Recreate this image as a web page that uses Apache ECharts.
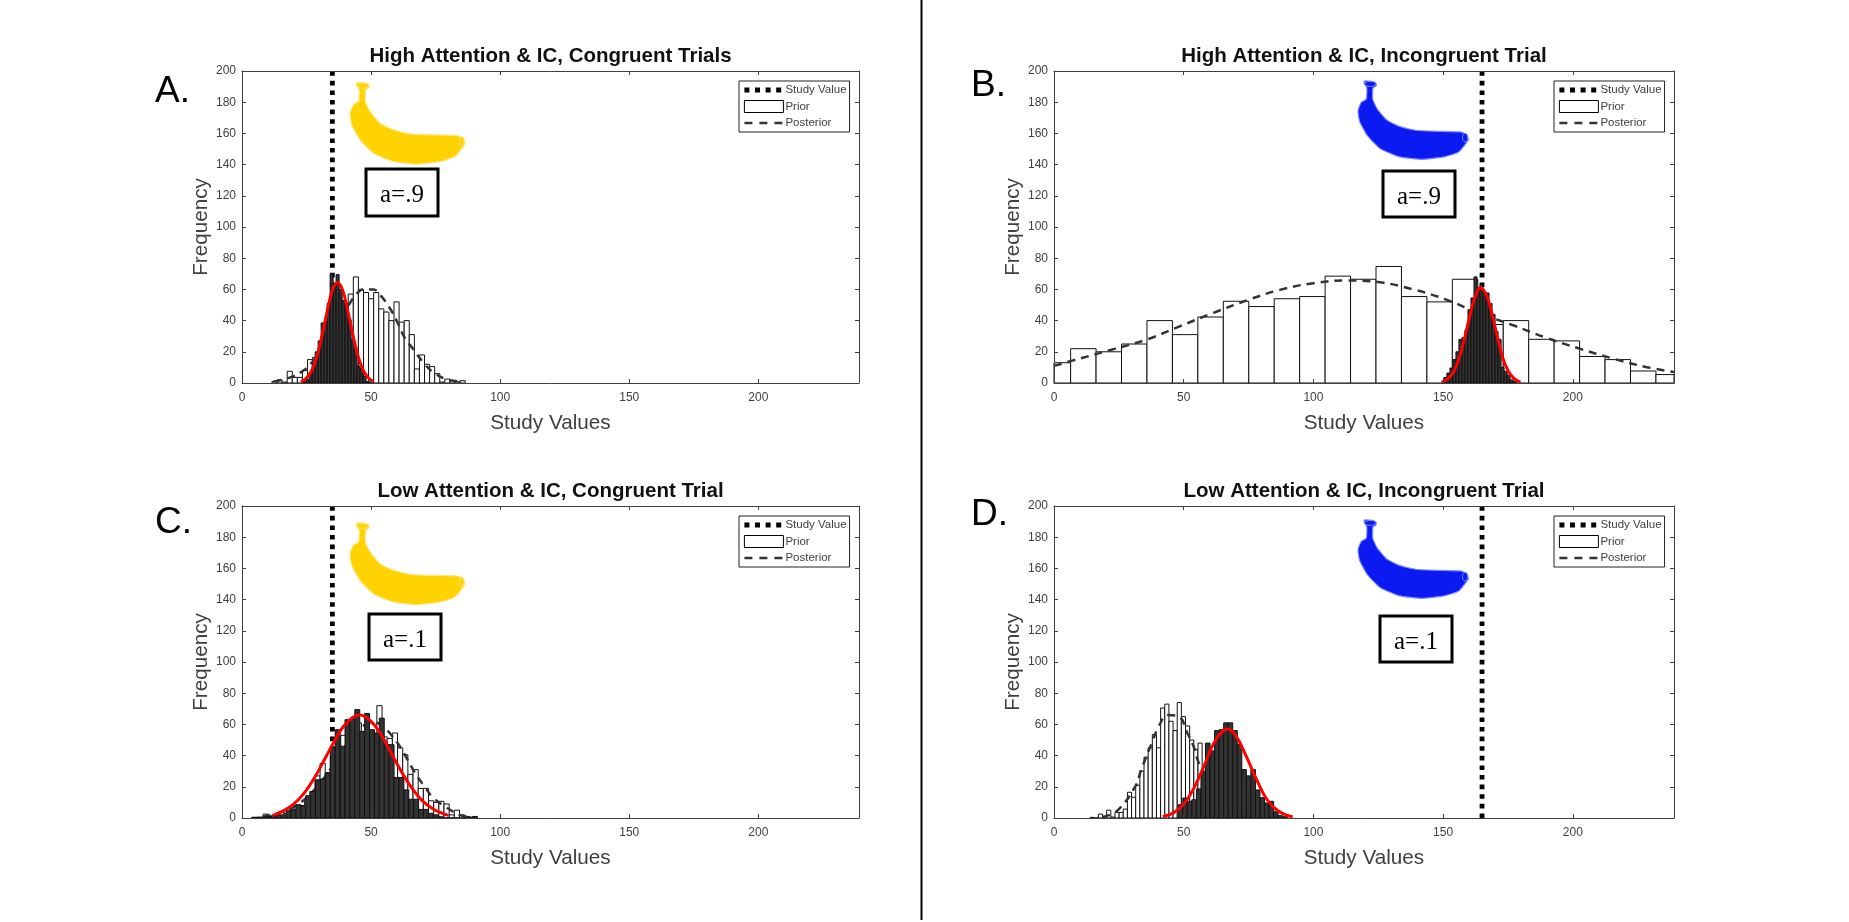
<!DOCTYPE html>
<html><head><meta charset="utf-8">
<style>html,body{margin:0;padding:0;background:#fff}#c{width:1849px;height:922px}</style>
<script src="https://cdn.jsdelivr.net/npm/echarts@6/dist/echarts.min.js"></script>
</head><body><div id="c"></div>
<script>
const xTicks = [0, 50, 100, 150, 200];
const yTicks = [0, 20, 40, 60, 80, 100, 120, 140, 160, 180, 200];
const titles = ['High Attention & IC, Congruent Trials', 'High Attention & IC, Incongruent Trial', 'Low Attention & IC, Congruent Trial', 'Low Attention & IC, Incongruent Trial'];
const letters = ['A.', 'B.', 'C.', 'D.'];
const alphaLabels = ['a=.9', 'a=.9', 'a=.1', 'a=.1'];
const studyValues = [35, 165, 35, 165];

const priorA = [1,2,.6,7.5,3.6,3.6,8,15,16.5,21,33,40,42,44,50,57,68,60,58,54,58,47.5,45.5,40,52,39,40,31,9,18,12,10.5,6,.6,2.5,1.5,.8,1.5];
const priorAStart = 11.6, priorAWidth = 1.97;
const darkA = [1,2,6,12,20,27,38.5,39.5,51,70,62,69.5,60,53,51,40.6,28,22,10.7,9.6,4.3,1,.6];
const darkAStart = 23.7, darkAWidth = 1.16;
const dashAX = [12.2,18.7,23.8,28,32,36,40,43.8,47,50.9,53.5,58,60.5,63,66.3,70.3,74,79,84];
const dashAY = [.9,3.6,8,15,24,35,46,56,60,60,56.6,46,37.8,29,21.8,13,7,2.5,1];
const redAX = [22.8,25,27,29,31,33,35,37,39,41,43,45,47,49,51];
const redAY = [.6,3.2,8,17,30.5,46,59.4,64.5,59.4,46,30.5,17,8,3.2,.8];

const priorB = [13,22,20,25,40,31,42.3,52.4,49,54,55.4,68.5,66.5,74.7,55.4,52,66.5,37.5,40,28,27,17,15,7.7,5.4];
const priorBStart = -3.4, priorBWidth = 9.81;
const darkB = [3.6,6.4,9.6,15,20,28,29,34,47,54.5,68,61,63,57.7,57.7,51,44,33,28,10,7.5,5,2,1];
const darkBStart = 150.3, darkBWidth = 1.16;
const dashBX = [0,10,23,36,48.7,61.5,74.4,87,100,113,125.6,138.5,151,164,177,189.7,202.6,215.4,228.2,239];
const dashBY = [11,15.7,21.7,28,36.5,45,53,59.7,64,65.7,64.6,60,53.6,44.6,37,29,22,15.7,10.3,7];
const redBX = [149.4,152,154,156,158,160,162,164.5,167,169,171,173,175,177,179.8];
const redBY = [.4,3,7,15,27,41,53.5,61,55,43,29,16,8,3.5,.4];

const priorC = [2.5,1,1.5,3.8,3,4,8,8,12,17,27,35,29,40,47,53,50,55,61,50,55,52,72,52,51,54.5,45,40.6,28,31,19,19,11,10,10.7,9,2,5,2,1,.6];
const priorCStart = 8.25, priorCWidth = 2;
const darkC = [.5,.6,.6,1,1.7,2,2,5,5.3,8.5,8,14.3,17,24.5,25,29,45,56.6,46,63,63.5,69.5,55.5,67,56.6,54.5,64,47,47,26,26,18,12,12,5.5,5.5,3,2,.8,0,0,0,0,0,0,1];
const darkCStart = 3.8, darkCWidth = 1.9;
const dashCX = [8,14,20,25,30,35,40,44,48,52,55,57.2,61.1,67,70.8,74,78.5,84.3,88];
const dashCY = [1,3,7,13,22,33,46,54,60,61,58,54.5,46,29,20,13,7.5,2,.6];
const redCX = [11.9,16,20,24,28,32,36,40,45.6,50,54,58,62,66,70,74,78,80];
const redCY = [1.6,4.6,8.9,15.8,25.6,37.6,49.8,60,66,62,53,41,29,18.6,10.8,5.8,2.7,1.8];

const priorD = [.4,0,2.5,.6,5,.6,3.6,3.6,5.7,16.5,13.3,21,30,39,45,53.5,45,70.5,73,62,56,74,65,59,50,44,48,30,30,22,15,8,4,2];
const priorDStart = 13.9, priorDWidth = 1.6;
const darkD = [8.5,12.8,10.7,11.7,18.6,29,48,43,56,56.6,61,61,56,47,31,27,31,18,13,9.6,10.7,4,1.5,.8];
const darkDStart = 47.9, darkDWidth = 1.75;
const dashDX = [18.6,24.4,31.5,33.4,37.9,40.1,43.7,48.2,51.4,54,55.9,60,65,70,75];
const dashDY = [.6,4.7,20.7,30,49,57.7,66,65,54.5,45,35,23,9,3,1];
const redDX = [42,46,50,54,58,62,66.8,70,74,78,82,86,90,92];
const redDY = [1,3.3,8.9,19.4,34,49,57,53,40,25,12,5,1.6,.8];

const panels = [
  {prior:priorA,ps:priorAStart,pw:priorAWidth,dark:darkA,ds:darkAStart,dw:darkAWidth,dx:dashAX,dy:dashAY,rx:redAX,ry:redAY},
  {prior:priorB,ps:priorBStart,pw:priorBWidth,dark:darkB,ds:darkBStart,dw:darkBWidth,dx:dashBX,dy:dashBY,rx:redBX,ry:redBY},
  {prior:priorC,ps:priorCStart,pw:priorCWidth,dark:darkC,ds:darkCStart,dw:darkCWidth,dx:dashCX,dy:dashCY,rx:redCX,ry:redCY},
  {prior:priorD,ps:priorDStart,pw:priorDWidth,dark:darkD,ds:darkDStart,dw:darkDWidth,dx:dashDX,dy:dashDY,rx:redDX,ry:redDY}
];

// layout
const boxes = [{l:242,t:71,w:617,h:312},{l:1054,t:71,w:620,h:312},{l:242,t:506,w:617,h:312},{l:1054,t:506,w:620,h:312}];
const bananaPts = [[6.5,0],[14,.4],[18.7,2.3],[19,5],[15.6,7.3],[15.4,19],[20,29],[30,40.7],[43.3,47.3],[60,51.3],[80,52.3],[106.7,53],[113.3,55.7],[115,61.3],[105,74],[90,79],[66.7,81.7],[43.3,79],[23.3,70.7],[10,57.3],[1.7,42.3],[0,30.7],[3.3,22.3],[8.6,19],[9.2,7.3],[6.5,2.3]];
const bananaPos = [[350,82.5,1,'#FFD200','#FFE680'],[1358,81,.96,'#0A1AF0','#7F8CFF'],[350,523,1,'#FFD200','#FFE680'],[1358,520,.96,'#0A1AF0','#7F8CFF']];
const alphaBox = [[366,169,72,47],[1383,171,72,46],[369,614,72,46],[1380,616,72,46]];
const letterPos = [[155,92],[971,86],[155,523],[971,515]];

const axisColor = '#404040';
const hist = (s,w,v) => v.map((y,i)=>[s+i*w, s+(i+1)*w, y]);
const pairs = (x,y) => x.map((a,i)=>[a,y[i]]);
function barRender(fill){
  return function(params, api){
    const p0 = api.coord([api.value(0), api.value(2)]);
    const p1 = api.coord([api.value(1), 0]);
    const c = params.coordSys;
    const r = echarts.graphic.clipRectByRect(
      {x:p0[0], y:p0[1], width:p1[0]-p0[0], height:p1[1]-p0[1]},
      {x:c.x, y:c.y, width:c.width, height:c.height});
    if(!r) return;
    return {type:'rect', shape:r, style:{fill:fill, stroke:'#111', lineWidth:1}};
  };
}

const grid=[], xAxis=[], yAxis=[], series=[], legend=[], graphic=[];
boxes.forEach((b,i)=>{
  const p = panels[i];
  grid.push({left:b.l, top:b.t, width:b.w, height:b.h, show:false});
  const common = {min:0, type:'value', z:6, splitLine:{show:false}, axisLine:{show:true, onZero:false, lineStyle:{color:axisColor, width:1}}, gridIndex:i};
  xAxis.push(Object.assign({}, common, {max:239, position:'bottom', name:'Study Values', nameLocation:'middle', nameGap:30,
    nameTextStyle:{fontFamily:'Liberation Sans', fontSize:20.7, color:axisColor},
    axisTick:{inside:true, length:4, lineStyle:{color:axisColor}, customValues:xTicks},
    axisLabel:{fontFamily:'Liberation Sans', fontSize:12, color:axisColor, margin:9, customValues:xTicks}}));
  xAxis.push(Object.assign({}, common, {max:239, position:'top',
    axisTick:{inside:true, length:4, lineStyle:{color:axisColor}, customValues:xTicks},
    axisLabel:{show:false}}));
  yAxis.push(Object.assign({}, common, {max:200, interval:20, position:'left', name:'Frequency', nameLocation:'middle', nameGap:30,
    nameTextStyle:{fontFamily:'Liberation Sans', fontSize:20.7, color:axisColor},
    axisTick:{inside:true, length:4, lineStyle:{color:axisColor}},
    axisLabel:{fontFamily:'Liberation Sans', fontSize:12, color:axisColor, margin:6, padding:[2,0,0,0]}}));
  yAxis.push(Object.assign({}, common, {max:200, interval:20, position:'right',
    axisTick:{inside:true, length:4, lineStyle:{color:axisColor}},
    axisLabel:{show:false}}));
  const xi=i*2, yi=i*2;
  series.push({type:'line', name:'Study Value', z:1, xAxisIndex:xi, yAxisIndex:yi, data:[[studyValues[i],0],[studyValues[i],200]], symbol:'none', silent:true,
    lineStyle:{color:'#000', width:4.8, type:[4.6,5], cap:'butt'}, itemStyle:{color:'#000'}});
  series.push({type:'custom', name:'Prior', z:2, xAxisIndex:xi, yAxisIndex:yi, data:hist(p.ps,p.pw,p.prior), renderItem:barRender('#fff'), encode:{x:[0,1],y:2}, silent:true,
    itemStyle:{color:'#fff', borderColor:'#000', borderWidth:1}});
  series.push({type:'line', name:'Posterior', z:3, xAxisIndex:xi, yAxisIndex:yi, data:pairs(p.dx,p.dy), smooth:0.4, symbol:'none', silent:true,
    lineStyle:{color:'#333', width:2.5, type:[8,6]}, itemStyle:{color:'#333'}});
  series.push({type:'custom', name:'Observed', z:4, xAxisIndex:xi, yAxisIndex:yi, data:hist(p.ds,p.dw,p.dark), renderItem:barRender('#333333'), encode:{x:[0,1],y:2}, silent:true});
  series.push({type:'line', name:'Fit', z:5, xAxisIndex:xi, yAxisIndex:yi, data:pairs(p.rx,p.ry), smooth:0.4, symbol:'none', silent:true,
    lineStyle:{color:'#ff0000', width:3}, itemStyle:{color:'#ff0000'}});
  legend.push({show:true, orient:'vertical', left:b.l+b.w-120, top:b.t+10, selectedMode:false, backgroundColor:'#fff', borderColor:'#222', borderWidth:1,
    padding:[3,3,3,3], itemGap:4, itemWidth:39, itemHeight:12, align:'left',
    textStyle:{fontFamily:'Liberation Sans', fontSize:11.5, color:'#404040', padding:[0,0,0,-3]},
    data:[{name:'Study Value', itemStyle:{opacity:0, color:'transparent', borderColor:'transparent'}, lineStyle:{color:'#000', width:4.8, type:[5,5.6], cap:'butt'}},
          {name:'Prior', icon:'rect', itemStyle:{color:'#fff',borderColor:'#000',borderWidth:1}},
          {name:'Posterior', itemStyle:{opacity:0, color:'transparent', borderColor:'transparent'}, lineStyle:{color:'#333', width:2.5, type:[8,7]}}]});
  graphic.push({type:'text', z:50, x:b.l+b.w/2, y:b.t-15, style:{text:titles[i], fontFamily:'Liberation Sans', fontWeight:'bold', fontSize:20.5, fill:'#111', align:'center', verticalAlign:'middle'}});
  const bp = bananaPos[i];
  graphic.push({type:'polygon', z:40, x:bp[0], y:bp[1], scaleX:bp[2], scaleY:bp[2], shape:{points:bananaPts, smooth:0.15}, style:{fill:bp[3], stroke:bp[4], lineWidth:1.2}});
  graphic.push({type:'ellipse', z:41, x:bp[0], y:bp[1], scaleX:bp[2], scaleY:bp[2], shape:{cx:12.7,cy:3,rx:6,ry:2.6}, style:{fill:bp[3], stroke:bp[4], lineWidth:1}});
  graphic.push({type:'ellipse', z:41, x:bp[0], y:bp[1], scaleX:bp[2], scaleY:bp[2], shape:{cx:111.5,cy:59,rx:2.6,ry:4.5}, style:{fill:bp[3], stroke:bp[4], lineWidth:1}});
  const ab = alphaBox[i];
  graphic.push({type:'rect', z:41, shape:{x:ab[0],y:ab[1],width:ab[2],height:ab[3]}, style:{fill:'#fff', stroke:'#000', lineWidth:3}});
  graphic.push({type:'text', z:42, x:ab[0]+ab[2]/2, y:ab[1]+ab[3]/2+3, style:{text:alphaLabels[i], fontFamily:'Liberation Serif', fontSize:25, fill:'#000', align:'center', verticalAlign:'middle'}});
  const lp = letterPos[i];
  graphic.push({type:'text', z:42, x:lp[0], y:lp[1], style:{text:letters[i], fontFamily:'Liberation Sans', fontSize:37, fill:'#000', align:'left', verticalAlign:'middle'}});
});
graphic.push({type:'line', z:45, shape:{x1:921.5,y1:0,x2:921.5,y2:920}, style:{stroke:'#000', lineWidth:2}});

const chart = echarts.init(document.getElementById('c'), null, {renderer:'canvas', width:1849, height:922});
chart.setOption({animation:false, backgroundColor:'#fff', grid, xAxis, yAxis, series, legend, graphic});
</script></body></html>
